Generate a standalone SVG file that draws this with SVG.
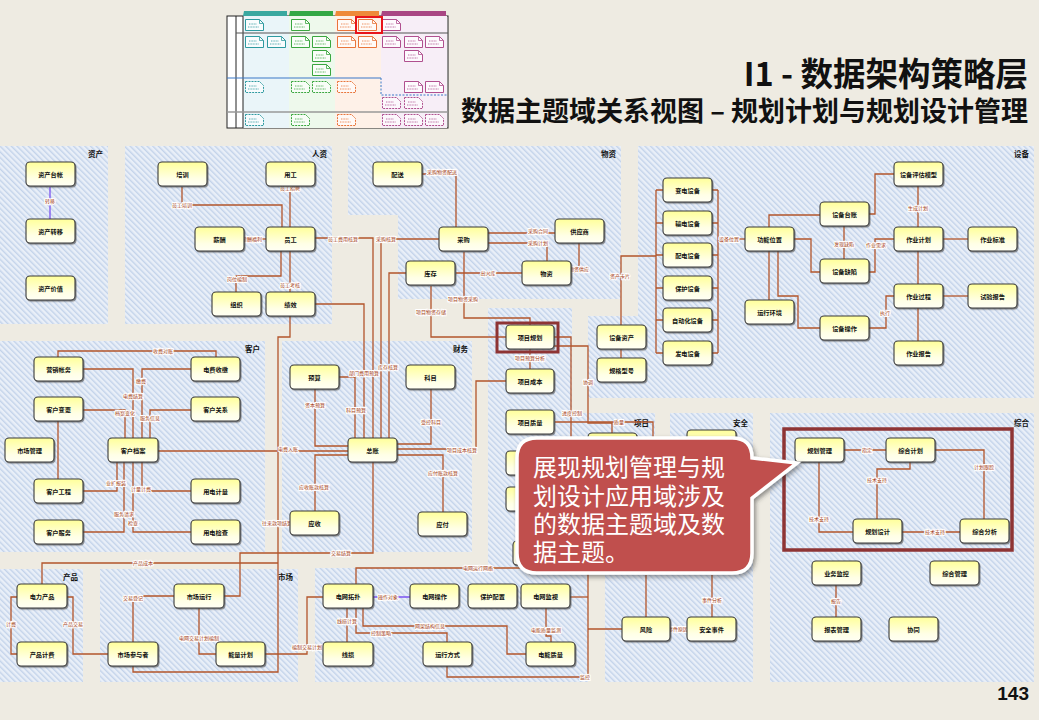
<svg xmlns="http://www.w3.org/2000/svg" width="1039" height="720" viewBox="0 0 1039 720">
<defs>
<pattern id="hatch" width="4" height="4" patternUnits="userSpaceOnUse" patternTransform="rotate(-45)">
<rect width="4" height="4" fill="#E9EFF8"/>
<rect width="1.4" height="4" fill="#C3D3EA"/>
</pattern>
<linearGradient id="ng" x1="0" y1="0" x2="0" y2="1">
<stop offset="0" stop-color="#FFFF9A"/>
<stop offset="0.7" stop-color="#FFFFE6"/>
<stop offset="1" stop-color="#FFFFF4"/>
</linearGradient>
<filter id="sh" x="-10%" y="-10%" width="130%" height="140%">
<feDropShadow dx="1" dy="1.2" stdDeviation="0.6" flood-color="#444" flood-opacity="0.6"/>
</filter>
<filter id="csh" x="-10%" y="-10%" width="130%" height="130%">
<feDropShadow dx="2" dy="2.5" stdDeviation="2" flood-color="#333" flood-opacity="0.5"/>
</filter>
<symbol id="doc" viewBox="0 0 19 12" overflow="visible">
<path d="M0.5,0.5 H14.5 L18.5,4.5 V11.5 H0.5 Z" fill="#fff" fill-opacity="0.7" stroke="currentColor" stroke-width="1"/>
<path d="M14.5,0.5 V4.5 H18.5" fill="none" stroke="currentColor" stroke-width="0.8"/>
<path d="M4,5 H12 M3,8 H14" stroke="currentColor" stroke-width="0.8" stroke-dasharray="1 0.6"/>
</symbol>
<symbol id="docd" viewBox="0 0 19 12" overflow="visible">
<path d="M0.5,0.5 H14.5 L18.5,4.5 V11.5 H0.5 Z" fill="#fff" fill-opacity="0.6" stroke="currentColor" stroke-width="1" stroke-dasharray="2 1"/>
<path d="M4,5 H12 M3,8 H14" stroke="currentColor" stroke-width="0.8" stroke-dasharray="1 0.6"/>
</symbol>
<style>
.pn{fill:url(#hatch)}
.pt{font-family:"Noto Sans CJK SC",sans-serif;font-size:7.5px;font-weight:bold;fill:#111;text-anchor:end}
.nd rect{fill:url(#ng);stroke:#3a3a3a;stroke-width:1.1;filter:url(#sh)}
.nd text{font-family:"Noto Sans CJK SC",sans-serif;font-size:6.2px;font-weight:bold;fill:#111;text-anchor:middle}
.cn path{fill:none;stroke:#B3552B;stroke-width:1.3}
.cn path.pu{stroke:#7B52F0}
.lb{font-family:"Noto Sans CJK SC",sans-serif;font-size:5px;fill:#A33B12;stroke:#fff;stroke-width:1.8;paint-order:stroke;text-anchor:middle}
.ttl{font-family:"Noto Sans CJK SC",sans-serif;font-weight:bold;fill:#111;text-anchor:end}
.hl{fill:none;stroke:#8E3434}
</style>
</defs>

<rect width="1039" height="720" fill="#EEEBE2"/>

<!-- thumbnail -->
<g id="thumbnail">
<rect x="227" y="16" width="221" height="112" fill="#fff" stroke="#222" stroke-width="1"/>
<rect x="243" y="16" width="46" height="112" fill="#EAF5F9"/>
<rect x="289" y="16" width="46" height="112" fill="#EEF9EC"/>
<rect x="335" y="16" width="46" height="112" fill="#FEF1E8"/>
<rect x="381" y="16" width="66" height="112" fill="#F7EEF7"/>
<path d="M243,16 V128 M236,16 V128" stroke="#222" stroke-width="1"/>
<path d="M236,33 H448" stroke="#555" stroke-width="1.2"/>
<path d="M227,78 H381" stroke="#3A78C8" stroke-width="1.2"/>
<path d="M381,78 V95 H448" stroke="#3A78C8" stroke-width="1" stroke-dasharray="2 1.5" fill="none"/>
<path d="M227,112 H448" stroke="#999" stroke-width="1.5"/>
<path d="M244,11 H287 V16 H243 Z" fill="#3AA8A0"/>
<path d="M290,11 H333 V16 H289 Z" fill="#33A845"/>
<path d="M336,11 H379 V16 H335 Z" fill="#EE8A3A"/>
<path d="M382,11 H446 V16 H381 Z" fill="#A94684"/>
<g color="#2E9AA0">
<use href="#doc" x="245" y="19" width="19" height="12"/>
<use href="#doc" x="245" y="36" width="19" height="12"/>
<use href="#doc" x="267" y="36" width="19" height="12"/>
<use href="#docd" x="245" y="81" width="19" height="12"/>
<use href="#docd" x="245" y="114" width="19" height="12"/>
</g>
<g color="#3AA63F">
<use href="#doc" x="291" y="19" width="19" height="12"/>
<use href="#doc" x="291" y="36" width="19" height="12"/>
<use href="#doc" x="312" y="36" width="19" height="12"/>
<use href="#doc" x="312" y="50" width="19" height="12"/>
<use href="#doc" x="312" y="64" width="19" height="12"/>
<use href="#docd" x="291" y="81" width="19" height="12"/>
<use href="#docd" x="312" y="81" width="19" height="12"/>
<use href="#docd" x="291" y="114" width="19" height="12"/>
</g>
<g color="#E9753A">
<use href="#doc" x="337" y="19" width="19" height="12"/>
<use href="#doc" x="358" y="19" width="19" height="12"/>
<use href="#doc" x="337" y="36" width="19" height="12"/>
<use href="#doc" x="358" y="36" width="19" height="12"/>
<use href="#docd" x="337" y="81" width="19" height="12"/>
<use href="#docd" x="337" y="114" width="19" height="12"/>
</g>
<g color="#B0508F">
<use href="#doc" x="382" y="19" width="19" height="12"/>
<use href="#doc" x="382" y="36" width="19" height="12"/>
<use href="#doc" x="404" y="36" width="19" height="12"/>
<use href="#doc" x="425" y="36" width="19" height="12"/>
<use href="#doc" x="404" y="50" width="19" height="12"/>
<use href="#doc" x="404" y="81" width="19" height="12"/>
<use href="#doc" x="425" y="81" width="19" height="12"/>
<use href="#docd" x="382" y="97" width="19" height="12"/>
<use href="#docd" x="404" y="97" width="19" height="12"/>
<use href="#docd" x="382" y="114" width="19" height="12"/>
<use href="#docd" x="404" y="114" width="19" height="12"/>
<use href="#docd" x="425" y="114" width="19" height="12"/>
</g>
<rect x="356" y="17" width="26" height="16" fill="none" stroke="#E8141B" stroke-width="2"/>
</g>

<!-- titles -->
<text class="ttl" x="1028" y="86" font-size="32.5">I1 - 数据架构策略层</text>
<text class="ttl" x="1028" y="121" font-size="27">数据主题域关系视图 – 规划计划与规划设计管理</text>
<text x="1029" y="700" font-family="Liberation Sans, Arial, sans-serif" font-size="19" font-weight="bold" fill="#111" text-anchor="end">143</text>

<!-- panels -->
<g id="panels">
<rect class="pn" x="0" y="146" width="108" height="178"/>
<rect class="pn" x="125" y="146" width="207" height="178"/>
<path class="pn" d="M348,146 H621 V299 H398 V215 H348 Z"/>
<path class="pn" d="M638,146 H1034 V398 H588 V316 H638 Z"/>
<rect class="pn" x="0" y="341" width="265" height="211"/>
<rect class="pn" x="282" y="341" width="190" height="211"/>
<path class="pn" d="M488,308 H572 V413 H655 V567 H488 Z"/>
<path class="pn" d="M670,413 H753 V682 H605 V573 H670 Z"/>
<rect class="pn" x="770" y="413" width="264" height="269"/>
<rect class="pn" x="0" y="569" width="83" height="113"/>
<rect class="pn" x="100" y="569" width="198" height="113"/>
<rect class="pn" x="315" y="568" width="273" height="114"/>
<text class="pt" x="103" y="157">资产</text>
<text class="pt" x="327" y="157">人资</text>
<text class="pt" x="616" y="157">物资</text>
<text class="pt" x="1029" y="157">设备</text>
<text class="pt" x="260" y="352">客户</text>
<text class="pt" x="468" y="352">财务</text>
<text class="pt" x="649" y="426">项目</text>
<text class="pt" x="748" y="426">安全</text>
<text class="pt" x="1029" y="426">综合</text>
<text class="pt" x="78" y="580">产品</text>
<text class="pt" x="293" y="580">市场</text>
</g>

<!-- connectors -->
<g id="connectors" class="cn">
<path class="pu" d="M50,187 V219"/>
<path d="M182,187 V205 H282 V227"/>
<path d="M290,187 V227"/>
<path d="M244,239 H266"/>
<path d="M281,251 V276 H236 V292"/>
<path d="M290,251 V292"/>
<path d="M315,238 H373 V438"/>
<path d="M315,304 H364 V438"/>
<path d="M290,316 V337 H278 V672 H133 V666"/>
<path d="M422,174 H456 V227"/>
<path d="M488,233 H555"/>
<path d="M488,243 H547 V261"/>
<path d="M579,243 V269 H571"/>
<path d="M456,273 H522"/>
<path d="M464,252 V318 H530 V325"/>
<path d="M431,286 V337 H506"/>
<path d="M439,239 H381 V438"/>
<path d="M406,273 H389 V438"/>
<path d="M621,325 V256 H656"/>
<path d="M656,190 V353 M656,190 H663 M656,223 H663 M656,255 H663 M656,288 H663 M656,320 H663 M656,353 H663"/>
<path d="M718,190 V353 M712,190 H718 M712,223 H718 M712,255 H718 M712,288 H718 M712,320 H718 M712,353 H718"/>
<path d="M718,239 H745"/>
<path d="M869,214 H875 V174 H894"/>
<path d="M918,186 V227"/>
<path d="M769,227 V215 H820"/>
<path d="M794,239 H811 V272 H820"/>
<path d="M844,226 V259"/>
<path d="M869,272 H875 V239 H894"/>
<path d="M943,239 H968"/>
<path d="M918,251 V284"/>
<path d="M943,296 H968"/>
<path d="M894,296 H886 V328 H869"/>
<path d="M918,308 V341"/>
<path d="M769,251 V300"/>
<path d="M778,251 V296 H798 V328 H820"/>
<path d="M621,349 V358"/>
<path d="M530,349 V369"/>
<path d="M554,337 H571 V540"/>
<path d="M554,346 H588 V423 H612 V433"/>
<path d="M555,422 H653 V440"/>
<path d="M506,381 H476 V449 H397"/>
<path d="M339,377 H355 V438"/>
<path d="M315,389 V446 H348"/>
<path d="M158,451 H348"/>
<path d="M348,455 H315 V511"/>
<path d="M290,523 H278"/>
<path d="M431,389 V444 H397"/>
<path d="M397,455 H443 V512"/>
<path d="M373,462 V553 H240 V596 H224"/>
<path d="M58,357 V351 H216 V357"/>
<path d="M83,369 H133 V438"/>
<path d="M191,369 H142 V438"/>
<path d="M83,410 H125 V438"/>
<path d="M191,410 H150 V438"/>
<path d="M58,421 V479"/>
<path d="M117,462 V491 H83"/>
<path d="M142,462 V491 H191"/>
<path d="M124,462 V532 H83"/>
<path d="M133,462 V532 H191"/>
<path d="M42,584 V563 H278"/>
<path d="M17,597 H11 V654 H17"/>
<path d="M67,597 H73 V654 H108"/>
<path d="M174,596 H133 V642"/>
<path d="M199,608 V654 H216"/>
<path d="M265,654 H307 V597 H323"/>
<path class="pu" d="M373,597 H410"/>
<path d="M356,584 V568 H588"/>
<path d="M588,568 V677"/>
<path d="M570,597 H588"/>
<path d="M588,629 H622"/>
<path d="M447,666 V677 H588"/>
<path d="M347,608 V642"/>
<path d="M363,608 V626 H507 V654 H526"/>
<path d="M356,608 V633 H447 V642"/>
<path d="M546,608 V636 H551 V642"/>
<path d="M670,629 H687"/>
<path d="M712,617 V575"/>
<path d="M646,617 V575"/>
<path d="M844,450 H886"/>
<path d="M935,450 H984 V519"/>
<path d="M910,462 V469 H877 V519"/>
<path d="M819,462 V532 H853"/>
<path d="M902,532 H960"/>
<path d="M836,585 V617"/>
</g>

<!-- connector labels -->
<g id="labels">
<text class="lb" x="50" y="203">转移</text>
<text class="lb" x="182" y="207">员工培训</text>
<text class="lb" x="290" y="190">员工招聘</text>
<text class="lb" x="247" y="241">员工薪酬福利</text>
<text class="lb" x="237" y="281">岗位编制</text>
<text class="lb" x="290" y="287">员工考核</text>
<text class="lb" x="343" y="241">员工费用核算</text>
<text class="lb" x="386" y="241">采购核算</text>
<text class="lb" x="442" y="174">采购物资配送</text>
<text class="lb" x="538" y="233">采购合同</text>
<text class="lb" x="538" y="245">采购计划</text>
<text class="lb" x="579" y="271">物资供应</text>
<text class="lb" x="488" y="275">出入库</text>
<text class="lb" x="463" y="301">项目物资采购</text>
<text class="lb" x="431" y="314">项目物资存储</text>
<text class="lb" x="620" y="278">资产卡片</text>
<text class="lb" x="729" y="241">设备位置</text>
<text class="lb" x="918" y="210">生成计划</text>
<text class="lb" x="844" y="246">发现缺陷</text>
<text class="lb" x="876" y="247">作业需求</text>
<text class="lb" x="885" y="315">执行</text>
<text class="lb" x="530" y="360">项目预算分析</text>
<text class="lb" x="588" y="384">协调</text>
<text class="lb" x="572" y="415">进度控制</text>
<text class="lb" x="619" y="424">质量</text>
<text class="lb" x="462" y="452">项目成本核算</text>
<text class="lb" x="364" y="375">部门费用预算</text>
<text class="lb" x="356" y="412">科目预算</text>
<text class="lb" x="388" y="369">库存核算</text>
<text class="lb" x="315" y="407">资本预算</text>
<text class="lb" x="288" y="451">电费入账</text>
<text class="lb" x="314" y="489">应收账款核算</text>
<text class="lb" x="277" y="525">往来款项结算</text>
<text class="lb" x="431" y="424">受控科目</text>
<text class="lb" x="443" y="475">应付账款核算</text>
<text class="lb" x="341" y="555">交易结算</text>
<text class="lb" x="163" y="353">收费对账</text>
<text class="lb" x="133" y="398">电费结算</text>
<text class="lb" x="141" y="383">缴费</text>
<text class="lb" x="125" y="415">档案变化</text>
<text class="lb" x="150" y="420">服务信息</text>
<text class="lb" x="116" y="485">业扩报装</text>
<text class="lb" x="141" y="491">计量计费</text>
<text class="lb" x="124" y="516">服务请求</text>
<text class="lb" x="133" y="525">检查</text>
<text class="lb" x="143" y="565">产品成本</text>
<text class="lb" x="11" y="626">计费</text>
<text class="lb" x="73" y="626">产品交易</text>
<text class="lb" x="133" y="600">交易登记</text>
<text class="lb" x="199" y="640">电网交易计划编制</text>
<text class="lb" x="307" y="649">编制交易计划</text>
<text class="lb" x="388" y="599">操作对象</text>
<text class="lb" x="478" y="570">电网运行网络</text>
<text class="lb" x="347" y="623">线损计算</text>
<text class="lb" x="430" y="628">网架结构信息</text>
<text class="lb" x="381" y="635">控制策略</text>
<text class="lb" x="546" y="632">电能质量监测</text>
<text class="lb" x="585" y="679">监控</text>
<text class="lb" x="678" y="631">事件原因</text>
<text class="lb" x="712" y="602">事件分析</text>
<text class="lb" x="867" y="452">指定</text>
<text class="lb" x="984" y="469">计划跟踪</text>
<text class="lb" x="877" y="482">技术支持</text>
<text class="lb" x="819" y="521">技术支持</text>
<text class="lb" x="935" y="534">技术支持</text>
<text class="lb" x="836" y="603">报告</text>
</g>

<!-- nodes -->
<g id="n-a1" class="nd"><rect x="26" y="162" width="49" height="24" rx="4"/><text x="50.5" y="176.5">资产台帐</text></g>
<g id="n-a2" class="nd"><rect x="26" y="219" width="49" height="24" rx="4"/><text x="50.5" y="233.5">资产转移</text></g>
<g id="n-a3" class="nd"><rect x="26" y="276" width="49" height="24" rx="4"/><text x="50.5" y="290.5">资产价值</text></g>
<g id="n-h1" class="nd"><rect x="158" y="162" width="49" height="24" rx="4"/><text x="182.5" y="176.5">培训</text></g>
<g id="n-h2" class="nd"><rect x="266" y="162" width="49" height="24" rx="4"/><text x="290.5" y="176.5">用工</text></g>
<g id="n-h3" class="nd"><rect x="195" y="227" width="49" height="24" rx="4"/><text x="219.5" y="241.5">薪酬</text></g>
<g id="n-h4" class="nd"><rect x="266" y="227" width="49" height="24" rx="4"/><text x="290.5" y="241.5">员工</text></g>
<g id="n-h5" class="nd"><rect x="212" y="292" width="49" height="24" rx="4"/><text x="236.5" y="306.5">组织</text></g>
<g id="n-h6" class="nd"><rect x="266" y="292" width="49" height="24" rx="4"/><text x="290.5" y="306.5">绩效</text></g>
<g id="n-m1" class="nd"><rect x="373" y="162" width="49" height="24" rx="4"/><text x="397.5" y="176.5">配送</text></g>
<g id="n-m2" class="nd"><rect x="439" y="227" width="49" height="24" rx="4"/><text x="463.5" y="241.5">采购</text></g>
<g id="n-m3" class="nd"><rect x="555" y="219" width="49" height="24" rx="4"/><text x="579.5" y="233.5">供应商</text></g>
<g id="n-m4" class="nd"><rect x="406" y="261" width="49" height="24" rx="4"/><text x="430.5" y="275.5">库存</text></g>
<g id="n-m5" class="nd"><rect x="522" y="261" width="49" height="24" rx="4"/><text x="546.5" y="275.5">物资</text></g>
<g id="n-e1" class="nd"><rect x="663" y="178" width="49" height="24" rx="4"/><text x="687.5" y="192.5">变电设备</text></g>
<g id="n-e2" class="nd"><rect x="663" y="211" width="49" height="24" rx="4"/><text x="687.5" y="225.5">输电设备</text></g>
<g id="n-e3" class="nd"><rect x="663" y="243" width="49" height="24" rx="4"/><text x="687.5" y="257.5">配电设备</text></g>
<g id="n-e4" class="nd"><rect x="663" y="276" width="49" height="24" rx="4"/><text x="687.5" y="290.5">保护设备</text></g>
<g id="n-e5" class="nd"><rect x="663" y="308" width="49" height="24" rx="4"/><text x="687.5" y="322.5">自动化设备</text></g>
<g id="n-e6" class="nd"><rect x="663" y="341" width="49" height="24" rx="4"/><text x="687.5" y="355.5">发电设备</text></g>
<g id="n-e7" class="nd"><rect x="745" y="227" width="49" height="24" rx="4"/><text x="769.5" y="241.5">功能位置</text></g>
<g id="n-e8" class="nd"><rect x="820" y="202" width="49" height="24" rx="4"/><text x="844.5" y="216.5">设备台账</text></g>
<g id="n-e9" class="nd"><rect x="894" y="162" width="49" height="24" rx="4"/><text x="918.5" y="176.5">设备评估模型</text></g>
<g id="n-e10" class="nd"><rect x="894" y="227" width="49" height="24" rx="4"/><text x="918.5" y="241.5">作业计划</text></g>
<g id="n-e11" class="nd"><rect x="968" y="227" width="49" height="24" rx="4"/><text x="992.5" y="241.5">作业标准</text></g>
<g id="n-e12" class="nd"><rect x="820" y="259" width="49" height="24" rx="4"/><text x="844.5" y="273.5">设备缺陷</text></g>
<g id="n-e13" class="nd"><rect x="894" y="284" width="49" height="24" rx="4"/><text x="918.5" y="298.5">作业过程</text></g>
<g id="n-e14" class="nd"><rect x="968" y="284" width="49" height="24" rx="4"/><text x="992.5" y="298.5">试验报告</text></g>
<g id="n-e15" class="nd"><rect x="745" y="300" width="49" height="24" rx="4"/><text x="769.5" y="314.5">运行环境</text></g>
<g id="n-e16" class="nd"><rect x="820" y="316" width="49" height="24" rx="4"/><text x="844.5" y="330.5">设备操作</text></g>
<g id="n-e17" class="nd"><rect x="894" y="341" width="49" height="24" rx="4"/><text x="918.5" y="355.5">作业报告</text></g>
<g id="n-e18" class="nd"><rect x="597" y="325" width="49" height="24" rx="4"/><text x="621.5" y="339.5">设备资产</text></g>
<g id="n-e19" class="nd"><rect x="597" y="358" width="49" height="24" rx="4"/><text x="621.5" y="372.5">规格型号</text></g>
<g id="n-p1" class="nd"><rect x="506" y="325" width="48" height="24" rx="4"/><text x="530" y="339.5">项目规划</text></g>
<g id="n-p2" class="nd"><rect x="506" y="369" width="48" height="24" rx="4"/><text x="530" y="383.5">项目成本</text></g>
<g id="n-p3" class="nd"><rect x="506" y="410" width="48" height="24" rx="4"/><text x="530" y="424.5">项目质量</text></g>
<g id="n-p4" class="nd"><rect x="506" y="451" width="48" height="24" rx="4"/></g>
<g id="n-p5" class="nd"><rect x="506" y="487" width="48" height="24" rx="4"/></g>
<g id="n-p6" class="nd"><rect x="588" y="433" width="49" height="24" rx="4"/></g>
<g id="n-p7" class="nd"><rect x="513" y="541" width="49" height="24" rx="4"/></g>
<g id="n-s0" class="nd"><rect x="687" y="430" width="49" height="24" rx="4"/></g>
<g id="n-f1" class="nd"><rect x="290" y="365" width="49" height="24" rx="4"/><text x="314.5" y="379.5">预算</text></g>
<g id="n-f2" class="nd"><rect x="406" y="365" width="49" height="24" rx="4"/><text x="430.5" y="379.5">科目</text></g>
<g id="n-f3" class="nd"><rect x="348" y="438" width="49" height="24" rx="4"/><text x="372.5" y="452.5">总账</text></g>
<g id="n-f4" class="nd"><rect x="290" y="511" width="49" height="24" rx="4"/><text x="314.5" y="525.5">应收</text></g>
<g id="n-f5" class="nd"><rect x="418" y="512" width="49" height="24" rx="4"/><text x="442.5" y="526.5">应付</text></g>
<g id="n-c1" class="nd"><rect x="34" y="357" width="49" height="24" rx="4"/><text x="58.5" y="371.5">营销帐务</text></g>
<g id="n-c2" class="nd"><rect x="191" y="357" width="49" height="24" rx="4"/><text x="215.5" y="371.5">电费收缴</text></g>
<g id="n-c3" class="nd"><rect x="34" y="397" width="49" height="24" rx="4"/><text x="58.5" y="411.5">客户变更</text></g>
<g id="n-c4" class="nd"><rect x="191" y="397" width="49" height="24" rx="4"/><text x="215.5" y="411.5">客户关系</text></g>
<g id="n-c5" class="nd"><rect x="5" y="438" width="49" height="24" rx="4"/><text x="29.5" y="452.5">市场管理</text></g>
<g id="n-c6" class="nd"><rect x="108" y="438" width="50" height="24" rx="4"/><text x="133" y="452.5">客户档案</text></g>
<g id="n-c7" class="nd"><rect x="34" y="479" width="49" height="24" rx="4"/><text x="58.5" y="493.5">客户工程</text></g>
<g id="n-c8" class="nd"><rect x="191" y="479" width="49" height="24" rx="4"/><text x="215.5" y="493.5">用电计量</text></g>
<g id="n-c9" class="nd"><rect x="34" y="520" width="49" height="24" rx="4"/><text x="58.5" y="534.5">客户服务</text></g>
<g id="n-c10" class="nd"><rect x="191" y="520" width="49" height="24" rx="4"/><text x="215.5" y="534.5">用电检查</text></g>
<g id="n-r1" class="nd"><rect x="17" y="584" width="50" height="24" rx="4"/><text x="42" y="598.5">电力产品</text></g>
<g id="n-r2" class="nd"><rect x="17" y="642" width="50" height="24" rx="4"/><text x="42" y="656.5">产品计费</text></g>
<g id="n-k1" class="nd"><rect x="174" y="584" width="50" height="24" rx="4"/><text x="199" y="598.5">市场运行</text></g>
<g id="n-k2" class="nd"><rect x="108" y="642" width="50" height="24" rx="4"/><text x="133" y="656.5">市场参与者</text></g>
<g id="n-k3" class="nd"><rect x="216" y="642" width="49" height="24" rx="4"/><text x="240.5" y="656.5">能量计划</text></g>
<g id="n-g1" class="nd"><rect x="323" y="584" width="50" height="24" rx="4"/><text x="348" y="598.5">电网拓扑</text></g>
<g id="n-g2" class="nd"><rect x="410" y="584" width="49" height="24" rx="4"/><text x="434.5" y="598.5">电网操作</text></g>
<g id="n-g3" class="nd"><rect x="468" y="584" width="49" height="24" rx="4"/><text x="492.5" y="598.5">保护配置</text></g>
<g id="n-g4" class="nd"><rect x="521" y="584" width="49" height="24" rx="4"/><text x="545.5" y="598.5">电网监视</text></g>
<g id="n-g5" class="nd"><rect x="323" y="642" width="50" height="24" rx="4"/><text x="348" y="656.5">线损</text></g>
<g id="n-g6" class="nd"><rect x="423" y="642" width="49" height="24" rx="4"/><text x="447.5" y="656.5">运行方式</text></g>
<g id="n-g7" class="nd"><rect x="526" y="642" width="49" height="24" rx="4"/><text x="550.5" y="656.5">电能质量</text></g>
<g id="n-s1" class="nd"><rect x="622" y="617" width="48" height="24" rx="4"/><text x="646" y="631.5">风险</text></g>
<g id="n-s2" class="nd"><rect x="687" y="617" width="49" height="24" rx="4"/><text x="711.5" y="631.5">安全事件</text></g>
<g id="n-z1" class="nd"><rect x="795" y="438" width="49" height="24" rx="4"/><text x="819.5" y="452.5">规划管理</text></g>
<g id="n-z2" class="nd"><rect x="886" y="438" width="49" height="24" rx="4"/><text x="910.5" y="452.5">综合计划</text></g>
<g id="n-z3" class="nd"><rect x="853" y="519" width="49" height="24" rx="4"/><text x="877.5" y="533.5">规划设计</text></g>
<g id="n-z4" class="nd"><rect x="960" y="519" width="49" height="24" rx="4"/><text x="984.5" y="533.5">综合分析</text></g>
<g id="n-z5" class="nd"><rect x="812" y="561" width="49" height="24" rx="4"/><text x="836.5" y="575.5">业务监控</text></g>
<g id="n-z6" class="nd"><rect x="930" y="561" width="49" height="24" rx="4"/><text x="954.5" y="575.5">综合管理</text></g>
<g id="n-z7" class="nd"><rect x="812" y="617" width="49" height="24" rx="4"/><text x="836.5" y="631.5">报表管理</text></g>
<g id="n-z8" class="nd"><rect x="889" y="617" width="49" height="24" rx="4"/><text x="913.5" y="631.5">协同</text></g>

<!-- highlight boxes -->
<rect class="hl" x="497" y="323" width="61" height="29" stroke-width="3"/>
<rect class="hl" x="784" y="429" width="228" height="121" stroke-width="3.5"/>

<!-- callout -->
<g id="callout">
<path d="M537,438 H732 Q752,438 752,458 L797,463 L752,498 V553 Q752,573 732,573 H537 Q517,573 517,553 V458 Q517,438 537,438 Z" fill="#C0504D" stroke="#fff" stroke-width="3.5" filter="url(#csh)"/>
<text font-family="Noto Sans CJK SC, sans-serif" font-size="24" fill="#fff"><tspan x="533" y="476">展现规划管理与规</tspan><tspan x="533" y="504.5">划设计应用域涉及</tspan><tspan x="533" y="533">的数据主题域及数</tspan><tspan x="533" y="561">据主题。</tspan></text>
</g>
</svg>
